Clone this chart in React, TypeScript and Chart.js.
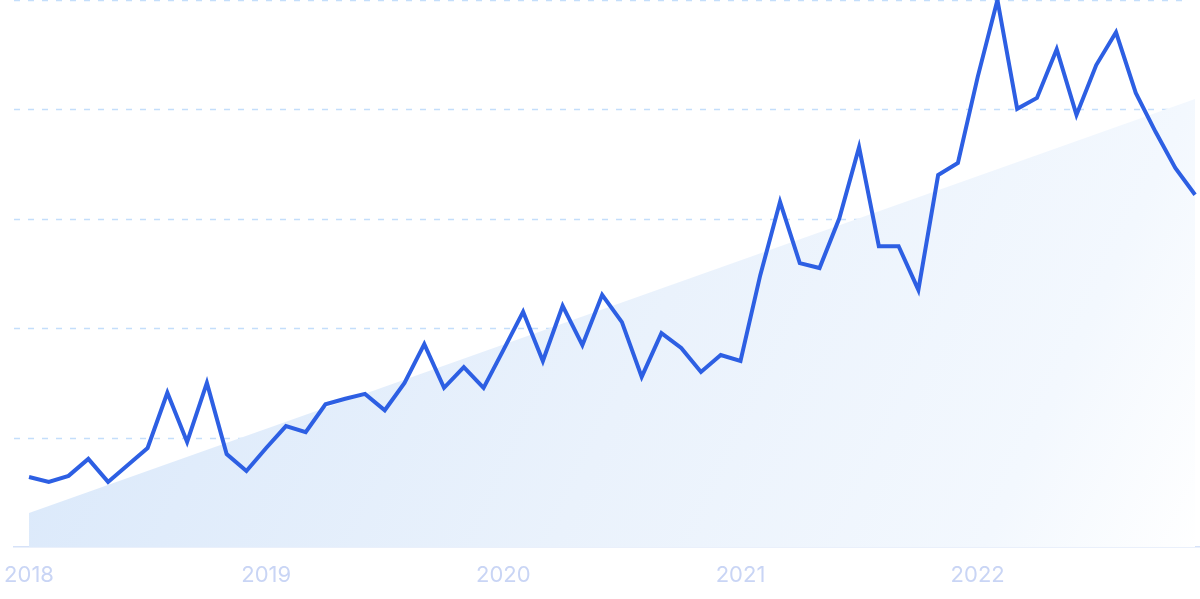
import React, { useEffect, useRef } from "react";
import { Chart, registerables } from "chart.js";

Chart.register(...registerables);

// Monthly index 0 = Jan 2018 ... 59 = Dec 2022
const values: number[] = [
  12.8, 11.9, 13.0, 16.1, 11.9, 15.0, 18.1, 28.2, 19.2, 30.0, 17.0, 13.9,
  18.1, 22.1, 21.0, 26.1, 27.1, 28.0, 25.0, 30.0, 37.1, 29.1, 32.9, 29.1,
  36.0, 43.0, 34.0, 44.1, 36.9, 46.1, 41.1, 31.1, 39.1, 36.4, 32.0, 35.1,
  34.0, 49.7, 63.1, 51.9, 51.0, 60.1, 73.1, 55.0, 55.0, 47.0, 68.0, 70.2,
  85.9, 100.0, 80.1, 82.1, 91.0, 79.0, 88.1, 94.1, 83.0, 75.9, 69.3, 64.4,
];

// Trend line end points (start month index 0, end month index 59)
const trendX: number[] = [0, 59];
const trendY: number[] = [6.2, 81.9];

const yearLabels: string[] = ["2018", "2019", "2020", "2021", "2022"];
const yearTickPositions: number[] = [0, 12, 24, 36, 48];

const dashedGrid = {
  id: "dashedGrid",
  beforeDatasetsDraw(chart: any) {
    const { ctx, chartArea, scales } = chart;
    const y = scales.y;
    ctx.save();
    ctx.strokeStyle = "#c4defb";
    ctx.lineWidth = 1.3;
    ctx.setLineDash([6, 8]);
    y.ticks.forEach((t: any) => {
      if (t.value === y.min) return;
      const py = Math.round(y.getPixelForValue(t.value)) + 0.5;
      ctx.beginPath();
      ctx.moveTo(chartArea.left, py);
      ctx.lineTo(chartArea.right - 12, py);
      ctx.stroke();
    });
    ctx.restore();
  },
};

export default function App() {
  const ref = useRef<HTMLCanvasElement | null>(null);

  useEffect(() => {
    if (!ref.current) return;
    const chart = new Chart(ref.current, {
      type: "line",
      plugins: [dashedGrid],
      data: {
        datasets: [
          {
            data: values.map((v, i) => ({ x: i, y: v })),
            borderColor: "#2d5fe3",
            borderWidth: 4,
            pointRadius: 0,
            tension: 0,
            fill: false,
            borderJoinStyle: "miter",
            order: 0,
          },
          {
            data: trendX.map((x, i) => ({ x, y: trendY[i] })),
            borderWidth: 0,
            borderColor: "rgba(0,0,0,0)",
            pointRadius: 0,
            fill: "origin",
            order: 1,
            backgroundColor: (ctx: any) => {
              const c = ctx.chart;
              const area = c.chartArea;
              if (!area) return "rgba(220,233,250,0.8)";
              const g = c.ctx.createLinearGradient(area.left, area.top, area.right, area.bottom);
              g.addColorStop(0, "#d6e6fa");
              g.addColorStop(0.55, "#eaf2fc");
              g.addColorStop(0.85, "#f3f8fe");
              g.addColorStop(1, "#ffffff");
              return g;
            },
          },
        ],
      },
      options: {
        animation: false,
        responsive: true,
        maintainAspectRatio: false,
        layout: { padding: { left: 14, right: 0, top: 0, bottom: 0 } },
        plugins: { legend: { display: false }, tooltip: { enabled: false } },
        scales: {
          x: {
            type: "linear",
            min: -0.76,
            max: 59.25,
            afterBuildTicks: (axis: any) => {
              axis.ticks = yearTickPositions.map((v) => ({ value: v }));
            },
            afterFit: (axis: any) => {
              axis.paddingLeft = 0;
              axis.paddingRight = 0;
              axis.height = 52;
            },
            ticks: {
              autoSkip: false,
              maxRotation: 0,
              padding: 15,
              color: "#c9d5f5",
              font: { family: "Inter", size: 22 },
              callback: (v: any) => {
                const idx = yearTickPositions.indexOf(Number(v));
                return idx >= 0 ? yearLabels[idx] : "";
              },
            },
            grid: { display: false, drawTicks: false },
            border: { display: true, color: "#d6e2f8", width: 1.5 },
          },
          y: {
            min: 0,
            max: 100,
            afterFit: (axis: any) => {
              axis.width = 0;
              axis.paddingTop = 0;
              axis.paddingBottom = 0;
            },
            ticks: { display: false, stepSize: 20 },
            grid: { display: false, drawTicks: false },
            border: { display: false },
          },
        },
      },
    });
    return () => chart.destroy();
  }, []);

  return (
    <div style={{ position: "absolute", left: 0, top: 0, width: 1200, height: 599, background: "#fff" }}>
      <canvas ref={ref} />
    </div>
  );
}
